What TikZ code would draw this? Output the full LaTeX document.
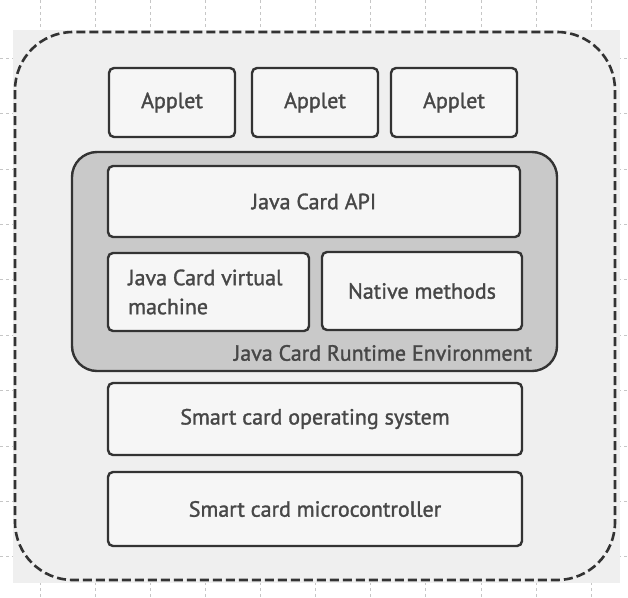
\documentclass[tikz,border=0pt]{standalone}
\usepackage{fontspec}
\setmainfont{PT Sans}
\newfontfamily\layerfont{PT Sans}[FakeBold=1.4]
\definecolor{ink}{HTML}{333333}
\definecolor{paper}{HTML}{EFEFEF}
\definecolor{jcregray}{HTML}{C9C9C9}
\definecolor{boxfill}{HTML}{F6F6F6}
\begin{document}
\begin{tikzpicture}[x=1pt,y=-1pt,
		layer/.style={draw=ink,line width=2.4pt,rounded corners=5pt,fill=boxfill,
			text=ink!90,font=\layerfont\fontsize{22}{29}\selectfont,inner sep=0pt},
		applet/.style={layer,minimum width=126pt,minimum height=69pt}]
		\useasboundingbox (0,0) rectangle (628,597);
		\fill[white] (0,0) rectangle (628,597);
		% graph paper behind the scan
		\foreach \k in {0,...,10}
			\draw[gray!45,dashed,line width=0.6pt] (40+55.1*\k,0)--(40+55.1*\k,597);
		\foreach \k in {0,...,9}
			\draw[gray!45,dashed,line width=0.6pt] (0,58+55.4*\k)--(628,58+55.4*\k);
		\fill[paper] (13,30) rectangle (620,583);
		\draw[ink,line width=2.6pt,dash pattern=on 9pt off 4pt,rounded corners=58pt] (15,32) rectangle (615,580);
		\node[applet] (applet1) at (172,102.5) {Applet};
		\node[applet] (applet2) at (315,102.5) {Applet};
		\node[applet] (applet3) at (454,102.5) {Applet};
		\node[layer,fill=jcregray,rounded corners=25pt,minimum width=485pt,minimum height=219pt] (jcre) at (314.5,261.5) {};
		\node[layer,minimum width=412pt,minimum height=71pt] (api) at (314,201.5) {Java Card API};
		\node[layer,minimum width=201pt,minimum height=78pt] (jcvm) at (208.5,292) {};
		\node[text=ink!90,font=\layerfont\fontsize{22}{29}\selectfont,align=left,anchor=west,inner sep=0pt] (jcvmtext) at (128,292) {Java Card virtual\\machine};
		\node[layer,minimum width=200pt,minimum height=78pt] (native) at (422,291) {Native methods};
		\node[text=ink!90,font=\layerfont\fontsize{22}{29}\selectfont,inner sep=0pt] (jcrelabel) at (383,353) {Java Card Runtime Environment};
		\node[layer,minimum width=414pt,minimum height=72pt] (os) at (315,419) {Smart card operating system};
		\node[layer,minimum width=414pt,minimum height=74pt] (mc) at (315,509) {Smart card microcontroller};
	\end{tikzpicture}
\end{document}
